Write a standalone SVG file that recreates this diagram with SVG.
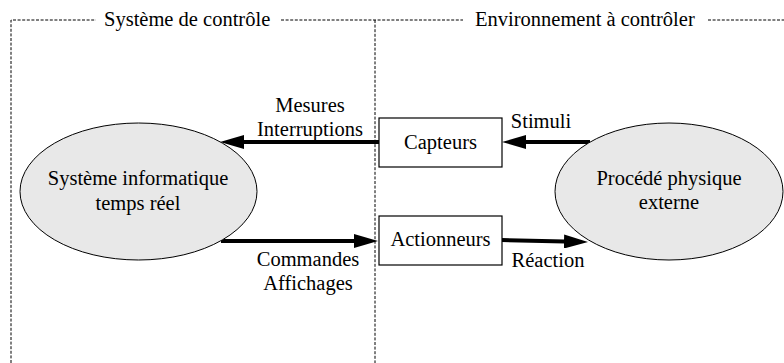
<svg xmlns="http://www.w3.org/2000/svg" width="784" height="363" viewBox="0 0 784 363">
  <defs>
    <style>
      text { font-family: "Liberation Serif", "Times New Roman", serif; font-size: 20.5px; fill: #000; }
      .mid { text-anchor: middle; }
      .frame { fill: none; stroke: #000; stroke-width: 1; stroke-dasharray: 3 1.6; }
      .ell { fill: #e8e8e8; stroke: #000; stroke-width: 1; }
      .box { fill: #fff; stroke: #000; stroke-width: 1.2; }
      .arrow { fill: none; stroke: #000; stroke-width: 4; }
    </style>
    <marker id="ah" viewBox="0 0 24 14" markerWidth="24" markerHeight="14" refX="12" refY="7" orient="auto" markerUnits="userSpaceOnUse">
      <path d="M0,0 L24,7 L0,14 z" fill="#000"/>
    </marker>
  </defs>
  <rect width="784" height="363" fill="#fff"/>

  <g id="frames">
    <path class="frame" d="M11,363 V20 H96"/>
    <path class="frame" d="M281,20 H463"/>
    <path class="frame" d="M375,20 V363"/>
    <path class="frame" d="M708,20 H784"/>
    <text x="104" y="26">Système de contrôle</text>
    <text x="475" y="26">Environnement à contrôler</text>
  </g>

  <g id="connectors">
    <line class="arrow" x1="380" y1="142" x2="232" y2="142" marker-end="url(#ah)"/>
    <line class="arrow" x1="590" y1="142" x2="514" y2="142" marker-end="url(#ah)"/>
    <line class="arrow" x1="221" y1="241" x2="366" y2="241" marker-end="url(#ah)"/>
    <line class="arrow" x1="502" y1="240" x2="576" y2="241.7" marker-end="url(#ah)"/>
    <text class="mid" x="310" y="112">Mesures</text>
    <text class="mid" x="310" y="136">Interruptions</text>
    <text class="mid" x="541" y="128">Stimuli</text>
    <text class="mid" x="308" y="266">Commandes</text>
    <text class="mid" x="308" y="290">Affichages</text>
    <text class="mid" x="548" y="267">Réaction</text>
  </g>

  <g id="systeme-informatique">
    <ellipse class="ell" cx="138.5" cy="191.5" rx="118.5" ry="68.5"/>
    <text class="mid" x="138" y="185">Système informatique</text>
    <text class="mid" x="138" y="210">temps réel</text>
  </g>

  <g id="procede-physique">
    <ellipse class="ell" cx="669" cy="191.5" rx="114" ry="68.5"/>
    <text class="mid" x="669" y="185">Procédé physique</text>
    <text class="mid" x="669" y="209">externe</text>
  </g>

  <g id="capteurs">
    <rect class="box" x="379" y="118" width="123" height="49"/>
    <text class="mid" x="440.5" y="149">Capteurs</text>
  </g>

  <g id="actionneurs">
    <rect class="box" x="379" y="216" width="123" height="49"/>
    <text class="mid" x="440.5" y="246">Actionneurs</text>
  </g>
</svg>
